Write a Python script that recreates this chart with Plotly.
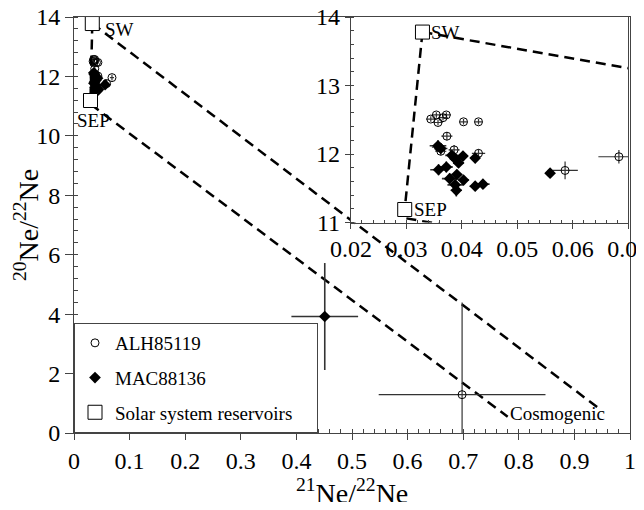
import plotly.graph_objects as go

# ---------------- data ----------------
alh_x = [0.0344, 0.0354, 0.0357, 0.0366, 0.0372, 0.0403, 0.0430, 0.0373, 0.0358, 0.0386,
         0.0362, 0.0430, 0.0586, 0.0683, 0.698]
alh_y = [12.51, 12.57, 12.46, 12.53, 12.57, 12.47, 12.47, 12.26, 12.10, 12.06,
         12.04, 12.01, 11.76, 11.96, 1.29]
alh_xerr = [0.0008, 0.0008, 0.0008, 0.0008, 0.0008, 0.0007, 0.0007, 0.0010, 0.0012, 0.0010,
            0.0010, 0.0012, 0.0023, 0.0037, 0.15]
alh_yerr = [0.04, 0.04, 0.04, 0.04, 0.04, 0.04, 0.04, 0.06, 0.07, 0.07,
            0.06, 0.06, 0.13, 0.10, 3.1]

mac_x = [0.0357, 0.0362, 0.0382, 0.0388, 0.0402, 0.0394, 0.0424, 0.0358, 0.0372, 0.0378,
         0.0391, 0.0403, 0.0388, 0.0390, 0.0424, 0.0438, 0.0559, 0.451]
mac_y = [12.12, 12.08, 11.98, 11.93, 11.97, 11.87, 11.94, 11.77, 11.81, 11.64,
         11.70, 11.62, 11.55, 11.47, 11.53, 11.56, 11.72, 3.92]
mac_xerr = [0.0015, 0.0012, 0.0012, 0.0010, 0.0008, 0.0010, 0.0008, 0.0015, 0.0012, 0.0014,
            0.0010, 0.0010, 0.0014, 0.0010, 0.0010, 0.0012, 0.0004, 0.06]
mac_yerr = [0.08, 0.07, 0.07, 0.06, 0.05, 0.06, 0.05, 0.08, 0.08, 0.08,
            0.07, 0.06, 0.08, 0.09, 0.06, 0.06, 0.02, 1.8]

res_names = ["SW", "SEP"]
res_x = [0.0329, 0.0297]
res_y = [13.78, 11.19]

# mixing / cosmogenic lines
upper_x = [0.0329, 0.948]
upper_y = [13.78, 0.77]
lower_x = [0.0300, 0.780]
lower_y = [11.06, 0.55]
mix_x = [0.0329, 0.0297]
mix_y = [13.78, 11.19]

cosmo_label = "Cosmogenic"
cosmo_pos = (0.781, 0.67)

x_title = "<sup>21</sup>Ne/<sup>22</sup>Ne"
y_title = "<sup>20</sup>Ne/<sup>22</sup>Ne"
legend_names = ["ALH85119", "MAC88136", "Solar system reservoirs"]

main_xticks = [0, 0.1, 0.2, 0.3, 0.4, 0.5, 0.6, 0.7, 0.8, 0.9, 1]
main_yticks = [0, 2, 4, 6, 8, 10, 12, 14]
inset_xticks = [0.02, 0.03, 0.04, 0.05, 0.06, 0.07]
inset_yticks = [11, 12, 13, 14]

FONT = "Liberation Serif"
DASH = "10px,6px"
ERRC = "#333333"
PAD = "\u00a0" * 4  # widens the legend box a little

fig = go.Figure()

for xa, ya, leg in [("x", "y", True), ("x2", "y2", False)]:
    for lx, ly in [(upper_x, upper_y), (lower_x, lower_y), (mix_x, mix_y)]:
        fig.add_trace(go.Scatter(x=lx, y=ly, mode="lines", xaxis=xa, yaxis=ya,
                                 line=dict(color="black", width=2.5, dash=DASH),
                                 showlegend=False, hoverinfo="skip"))
    fig.add_trace(go.Scatter(
        x=alh_x, y=alh_y, mode="markers", name=legend_names[0], xaxis=xa, yaxis=ya,
        legendgroup="a", showlegend=leg,
        marker=dict(symbol="circle-open", size=8, color="black", line=dict(width=1)),
        error_x=dict(type="data", array=alh_xerr, color=ERRC, thickness=1.2, width=0),
        error_y=dict(type="data", array=alh_yerr, color=ERRC, thickness=1.2, width=0)))
    fig.add_trace(go.Scatter(
        x=mac_x, y=mac_y, mode="markers", name=legend_names[1], xaxis=xa, yaxis=ya,
        legendgroup="b", showlegend=leg,
        marker=dict(symbol="diamond", size=9, color="black"),
        error_x=dict(type="data", array=mac_xerr, color=ERRC, thickness=1.6, width=0),
        error_y=dict(type="data", array=mac_yerr, color=ERRC, thickness=1.6, width=0)))
    fig.add_trace(go.Scatter(
        x=res_x, y=res_y, mode="markers", name=legend_names[2] + PAD, xaxis=xa, yaxis=ya,
        legendgroup="c", showlegend=leg,
        marker=dict(symbol="square", size=14, color="white", line=dict(color="black", width=1))))

annots = []
# main plot labels
annots.append(dict(x=res_x[0], y=res_y[0], xref="x", yref="y", text=res_names[0], showarrow=False,
                   xanchor="left", yanchor="middle", xshift=11, yshift=-6))
annots.append(dict(x=res_x[1], y=res_y[1], xref="x", yref="y", text=res_names[1], showarrow=False,
                   xanchor="center", yanchor="top", xshift=3, yshift=-7))
# inset labels
annots.append(dict(x=res_x[0], y=res_y[0], xref="x2", yref="y2", text=res_names[0], showarrow=False,
                   xanchor="left", yanchor="middle", xshift=7))
annots.append(dict(x=res_x[1], y=res_y[1], xref="x2", yref="y2", text=res_names[1], showarrow=False,
                   xanchor="left", yanchor="middle", xshift=7))
annots.append(dict(x=cosmo_pos[0], y=cosmo_pos[1], xref="x", yref="y", text=cosmo_label,
                   showarrow=False, xanchor="left", yanchor="middle"))
for a in annots:
    a["font"] = dict(family=FONT, size=19, color="black")
# axis titles
annots.append(dict(x=0.5, y=0, xref="paper", yref="paper", text=x_title, showarrow=False,
                   xanchor="center", yanchor="middle", yshift=-58,
                   font=dict(family=FONT, size=28, color="black")))
annots.append(dict(x=0, y=0.5, xref="paper", yref="paper", text=y_title, showarrow=False,
                   xanchor="center", yanchor="middle", xshift=-48, textangle=-90,
                   font=dict(family=FONT, size=28, color="black")))

axis_common = dict(showline=True, linecolor="#444444", linewidth=1, mirror=True,
                   showgrid=False, zeroline=False, ticks="outside",
                   automargin=False, ticklabeloverflow="allow",
                   tickcolor="#444444", tickfont=dict(family=FONT, size=24, color="black"))

# the page adds an 8px body margin, so the figure is placed to compensate
fig.update_layout(
    width=644, height=494,
    margin=dict(l=66, r=22, t=9, b=69),
    paper_bgcolor="white", plot_bgcolor="white",
    font=dict(family=FONT, color="black"),
    annotations=annots,
    showlegend=True,
    legend=dict(x=0, y=0, xanchor="left", yanchor="bottom", bgcolor="white",
                bordercolor="#444444", borderwidth=1, font=dict(family=FONT, size=19),
                tracegroupgap=7, traceorder="grouped"),
    xaxis=dict(domain=[0, 1], range=[0, 1], tickvals=main_xticks, ticklen=6,
               ticktext=[("%g" % v) for v in main_xticks],
               minor=dict(dtick=0.02, ticks="inside", ticklen=4, tickcolor="#444444"),
               **axis_common),
    yaxis=dict(domain=[0, 1], range=[0, 14], tickvals=main_yticks, ticklen=8,
               minor=dict(dtick=0.4, ticks="inside", ticklen=4, tickcolor="#444444"),
               **axis_common),
    xaxis2=dict(domain=[0.498, 0.997], anchor="y2", range=[0.02, 0.07], tickvals=inset_xticks,
                ticktext=[("%g" % v) for v in inset_xticks], ticklen=5,
                minor=dict(dtick=0.002, ticks="inside", ticklen=3, tickcolor="#444444"),
                **axis_common),
    yaxis2=dict(domain=[0.506, 1.0], anchor="x2", range=[11, 14], tickvals=inset_yticks, ticklen=5,
                minor=dict(dtick=0.2, ticks="inside", ticklen=3, tickcolor="#444444"),
                **axis_common),
)

fig.write_html("out.html")
